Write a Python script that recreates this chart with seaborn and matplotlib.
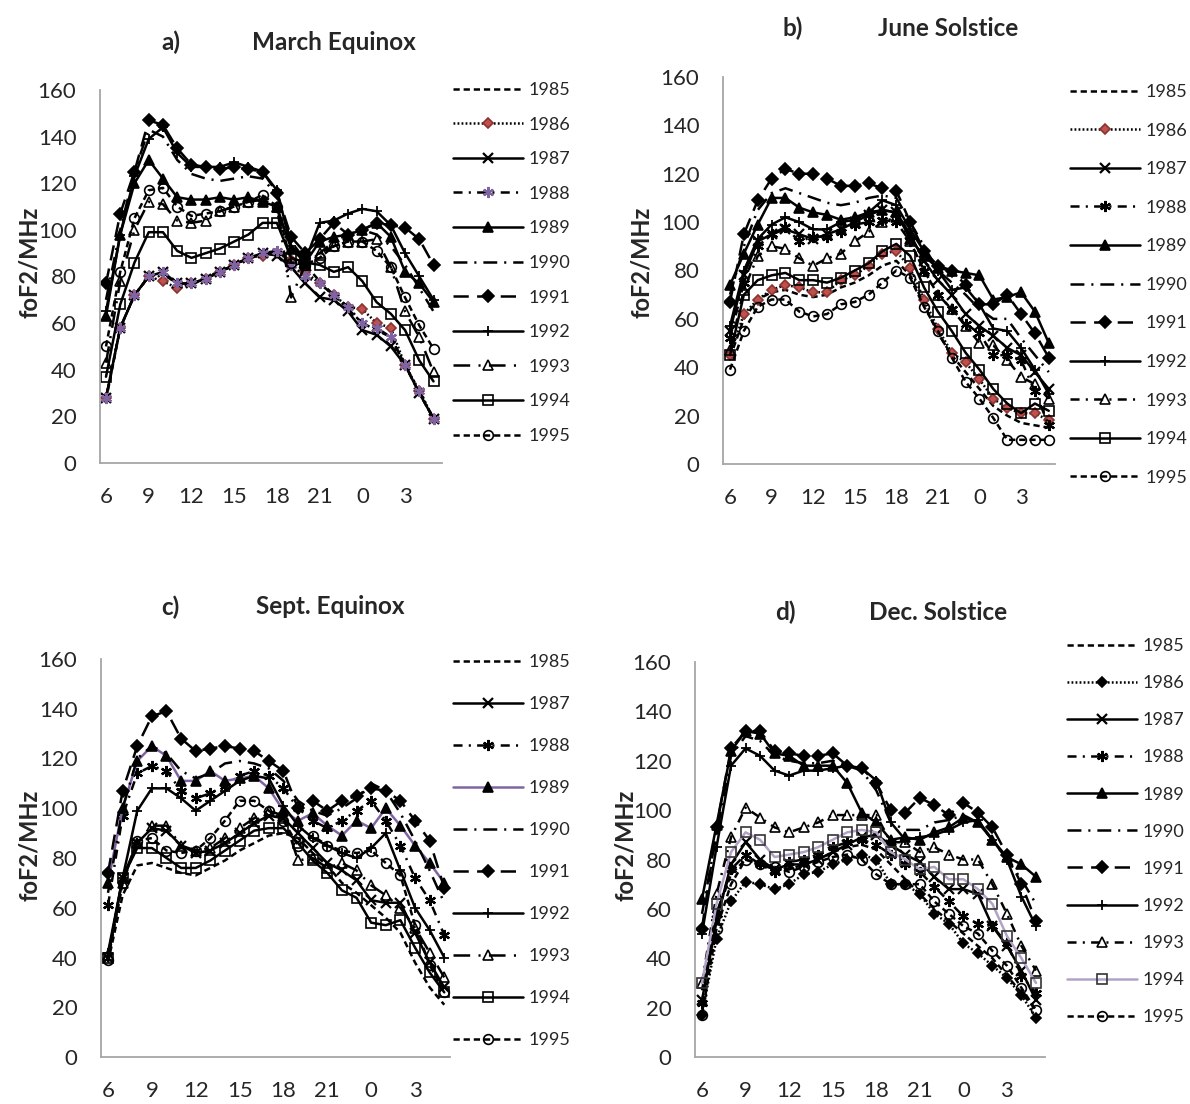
import numpy as np
import pandas as pd
import matplotlib
matplotlib.use("Agg")
import matplotlib.pyplot as plt
import seaborn as sns

# -------------------------------------------
# Data: hourly foF2 (MHz), 06 LT .. 05 LT
# -------------------------------------------
hours = [6, 7, 8, 9, 10, 11, 12, 13, 14, 15, 16, 17, 18, 19, 20, 21, 22, 23, 0, 1, 2, 3, 4, 5]

# a) March Equinox
mar_1985 = [27, 58, 72, 80, 81, 77, 76, 80, 82, 85, 88, 89, 90, 88, 85, 78, 72, 66, 60, 57, 54, 42, 30, 19]
mar_1986 = [28, 58, 72, 80, 78, 75, 77, 79, 82, 85, 88, 89, 90, 87, 82, 77, 72, 67, 66, 60, 58, 42, 31, 19]
mar_1987 = [28, 58, 72, 80, 82, 77, 77, 79, 82, 85, 88, 90, 89, 84, 77, 71, 70, 65, 57, 55, 50, 42, 30, 19]
mar_1988 = [28, 58, 72, 80, 82, 77, 77, 79, 82, 85, 88, 90, 91, 85, 80, 77, 72, 67, 60, 58, 54, 42, 31, 19]
mar_1989 = [63, 98, 120, 130, 122, 114, 113, 113, 114, 113, 114, 112, 110, 92, 86, 95, 97, 98, 100, 103, 97, 82, 77, 69]
mar_1990 = [70, 100, 125, 143, 140, 130, 124, 122, 121, 122, 123, 122, 115, 95, 87, 90, 95, 98, 100, 98, 93, 85, 75, 65]
mar_1991 = [77, 107, 125, 147, 145, 135, 128, 127, 126, 127, 126, 125, 116, 97, 90, 96, 103, 98, 100, 103, 102, 101, 96, 85]
mar_1992 = [65, 98, 123, 139, 144, 133, 127, 127, 127, 129, 127, 125, 117, 93, 87, 103, 104, 107, 109, 108, 102, 90, 80, 70]
mar_1993 = [43, 78, 100, 112, 111, 104, 103, 104, 108, 110, 112, 113, 110, 71, 85, 90, 93, 95, 95, 96, 84, 65, 54, 39]
mar_1994 = [37, 68, 86, 99, 99, 91, 88, 90, 92, 95, 98, 103, 103, 88, 86, 85, 82, 84, 78, 69, 64, 57, 44, 35]
mar_1995 = [50, 82, 105, 117, 118, 110, 106, 107, 108, 110, 112, 115, 110, 86, 85, 88, 93, 95, 95, 91, 84, 71, 59, 49]

# b) June Solstice
jun_1985 = [44, 60, 68, 71, 72, 70, 69, 70, 73, 75, 78, 82, 84, 78, 66, 54, 45, 38, 31, 24, 20, 17, 16, 15]
jun_1986 = [45, 62, 68, 72, 74, 73, 71, 71, 76, 78, 82, 87, 88, 81, 68, 56, 46, 42, 35, 27, 23, 21, 21, 18]
jun_1987 = [55, 78, 92, 95, 97, 95, 93, 95, 97, 100, 103, 105, 104, 95, 84, 76, 70, 62, 57, 53, 48, 45, 38, 31]
jun_1988 = [52, 75, 90, 95, 98, 92, 94, 94, 96, 99, 100, 101, 100, 92, 80, 70, 64, 58, 54, 45, 45, 43, 30, 16]
jun_1989 = [74, 87, 99, 110, 110, 106, 104, 103, 101, 102, 104, 105, 104, 93, 86, 81, 80, 79, 78, 68, 69, 71, 63, 50]
jun_1990 = [70, 90, 105, 112, 114, 112, 110, 108, 107, 108, 110, 111, 110, 100, 90, 80, 75, 70, 64, 60, 60, 52, 45, 38]
jun_1991 = [67, 95, 109, 118, 122, 120, 120, 118, 115, 115, 116, 114, 113, 100, 88, 82, 80, 74, 66, 66, 70, 62, 54, 44]
jun_1992 = [57, 80, 93, 99, 102, 100, 97, 97, 100, 101, 104, 109, 107, 97, 88, 80, 72, 73, 66, 56, 55, 48, 39, 29]
jun_1993 = [47, 72, 86, 90, 89, 85, 82, 85, 87, 92, 96, 100, 102, 92, 80, 70, 64, 57, 50, 49, 43, 36, 33, 27]
jun_1994 = [45, 70, 76, 78, 79, 76, 76, 75, 77, 80, 83, 88, 91, 86, 73, 63, 55, 46, 39, 31, 25, 21, 25, 22]
jun_1995 = [39, 55, 65, 68, 68, 63, 61, 62, 66, 67, 70, 75, 80, 77, 65, 55, 44, 34, 27, 19, 10, 10, 10, 10]

# c) Sept. Equinox (no 1986)
sep_1985 = [38, 65, 77, 78, 76, 74, 73, 76, 79, 83, 86, 89, 90, 88, 82, 77, 70, 66, 61, 56, 50, 38, 28, 21]
sep_1987 = [40, 72, 86, 92, 91, 85, 82, 83, 86, 90, 94, 97, 96, 90, 84, 78, 75, 71, 63, 62, 62, 50, 38, 28]
sep_1988 = [61, 97, 114, 117, 115, 107, 104, 106, 109, 113, 115, 113, 108, 100, 95, 92, 95, 99, 103, 95, 85, 72, 63, 49]
sep_1989 = [70, 100, 119, 125, 121, 111, 111, 115, 111, 112, 113, 108, 99, 95, 98, 93, 89, 95, 92, 100, 93, 85, 78, 70]
sep_1990 = [66, 100, 120, 125, 122, 115, 112, 114, 118, 119, 118, 116, 111, 103, 99, 97, 100, 104, 110, 107, 98, 87, 75, 62]
sep_1991 = [74, 107, 125, 137, 139, 128, 123, 124, 125, 124, 123, 119, 115, 100, 103, 99, 103, 105, 108, 107, 103, 95, 87, 68]
sep_1992 = [42, 72, 99, 108, 108, 104, 99, 103, 107, 111, 113, 112, 101, 93, 88, 85, 82, 80, 84, 90, 75, 60, 51, 40]
sep_1993 = [41, 70, 86, 93, 93, 85, 83, 84, 88, 92, 96, 99, 97, 79, 80, 76, 78, 75, 69, 65, 60, 52, 42, 32]
sep_1994 = [40, 72, 84, 84, 80, 76, 76, 79, 83, 87, 91, 92, 92, 86, 79, 74, 67, 64, 54, 53, 55, 44, 34, 26]
sep_1995 = [39, 70, 87, 88, 83, 82, 83, 88, 95, 103, 103, 99, 95, 85, 89, 85, 83, 82, 83, 78, 73, 53, 37, 26]

# d) Dec. Solstice
dec_1985 = [27, 58, 74, 80, 78, 76, 76, 78, 80, 83, 85, 86, 84, 78, 72, 66, 60, 55, 50, 45, 40, 33, 26, 19]
dec_1986 = [17, 48, 63, 71, 70, 68, 70, 74, 75, 78, 80, 82, 80, 70, 70, 66, 58, 54, 46, 42, 37, 32, 25, 16]
dec_1987 = [23, 55, 78, 87, 80, 76, 78, 78, 80, 83, 86, 89, 90, 86, 82, 79, 73, 68, 68, 66, 53, 45, 35, 23]
dec_1988 = [22, 58, 76, 82, 78, 75, 79, 80, 82, 85, 87, 88, 86, 82, 78, 75, 69, 63, 57, 54, 53, 46, 33, 26]
dec_1989 = [64, 94, 124, 132, 131, 123, 122, 118, 118, 118, 111, 99, 95, 88, 89, 88, 91, 93, 97, 95, 88, 81, 78, 73]
dec_1990 = [58, 90, 122, 130, 128, 122, 120, 119, 119, 120, 118, 116, 108, 95, 92, 92, 95, 96, 98, 95, 88, 80, 72, 62]
dec_1991 = [52, 93, 125, 132, 132, 124, 123, 122, 122, 123, 118, 117, 111, 100, 99, 105, 102, 98, 103, 99, 93, 82, 70, 55]
dec_1992 = [50, 85, 118, 125, 122, 116, 114, 116, 116, 117, 118, 117, 112, 95, 88, 89, 90, 92, 95, 96, 88, 80, 65, 53]
dec_1993 = [30, 66, 89, 101, 97, 93, 91, 93, 95, 98, 98, 98, 98, 87, 87, 83, 85, 82, 80, 80, 70, 58, 45, 35]
dec_1994 = [30, 62, 83, 91, 88, 81, 82, 83, 85, 88, 91, 92, 91, 83, 80, 76, 77, 72, 72, 68, 62, 49, 40, 30]
dec_1995 = [17, 52, 70, 80, 78, 77, 75, 77, 79, 81, 82, 80, 74, 70, 70, 70, 63, 58, 53, 50, 43, 37, 28, 19]

panels = {
    "mar": {1985: mar_1985, 1986: mar_1986, 1987: mar_1987, 1988: mar_1988, 1989: mar_1989, 1990: mar_1990,
            1991: mar_1991, 1992: mar_1992, 1993: mar_1993, 1994: mar_1994, 1995: mar_1995},
    "jun": {1985: jun_1985, 1986: jun_1986, 1987: jun_1987, 1988: jun_1988, 1989: jun_1989, 1990: jun_1990,
            1991: jun_1991, 1992: jun_1992, 1993: jun_1993, 1994: jun_1994, 1995: jun_1995},
    "sep": {1985: sep_1985, 1987: sep_1987, 1988: sep_1988, 1989: sep_1989, 1990: sep_1990,
            1991: sep_1991, 1992: sep_1992, 1993: sep_1993, 1994: sep_1994, 1995: sep_1995},
    "dec": {1985: dec_1985, 1986: dec_1986, 1987: dec_1987, 1988: dec_1988, 1989: dec_1989, 1990: dec_1990,
            1991: dec_1991, 1992: dec_1992, 1993: dec_1993, 1994: dec_1994, 1995: dec_1995},
}

# -------------------------------------------
# Styling
# -------------------------------------------
sns.set_style("white")
plt.rcParams["font.family"] = ["Lato", "DejaVu Sans"]
plt.rcParams["lines.scale_dashes"] = False

RED = "#C0504D"
PURPLE = "#8064A2"
LILAC = "#B3A2C7"
GREY = "#A6A6A6"

SHORT_DASH = (0, (4.5, 2.8))
DOTS = (0, (1.3, 1.6))
DASH_DOT_DOT = (0, (6.5, 4.5, 1.5, 4.5))
LONG_DASH_DOT = (0, (10, 5, 1.5, 5))
LONG_DASH = (0, (11, 6))
BIG_DASH_DOT = (0, (12, 6, 1.5, 6))


def series_style(year, panel):
    st = dict(color="black", linestyle="-", marker=None, markersize=7,
              markerfacecolor="black", markeredgecolor="black", markeredgewidth=1.2)
    if year == 1985:
        st.update(linestyle=SHORT_DASH)
    elif year == 1986:
        face = "black" if panel == "dec" else RED
        edge = "black" if panel == "dec" else "#8B3330"
        st.update(linestyle=DOTS, marker="D", markersize=5.5, markerfacecolor=face, markeredgecolor=edge)
    elif year == 1987:
        st.update(marker="x", markersize=6.5, markeredgewidth=1.6)
    elif year == 1988:
        mc = PURPLE if panel == "mar" else "black"
        st.update(linestyle=DASH_DOT_DOT, marker=(6, 2, 0), markersize=8,
                  markeredgecolor=mc, markerfacecolor=mc, markeredgewidth=1.6)
    elif year == 1989:
        st.update(marker="^", markersize=7.5)
        if panel == "sep":
            st.update(color=PURPLE)
    elif year == 1990:
        st.update(linestyle=LONG_DASH_DOT)
    elif year == 1991:
        st.update(linestyle=LONG_DASH, marker="D", markersize=6)
    elif year == 1992:
        st.update(marker="+", markersize=7, markeredgewidth=1.3)
    elif year == 1993:
        ls = BIG_DASH_DOT if panel in ("mar", "sep") else DASH_DOT_DOT
        st.update(linestyle=ls, marker="^", markersize=7.5, markerfacecolor="none")
    elif year == 1994:
        st.update(marker="s", markersize=7, markerfacecolor="none")
        if panel == "dec":
            st.update(color=LILAC, markeredgecolor="#333333")
    elif year == 1995:
        st.update(linestyle=SHORT_DASH, marker="o", markersize=7, markerfacecolor="none")
    return st


# layout in pixels: axes box, first point x, point spacing, legend box
layout = {
    "mar": dict(box=(100, 90, 442, 463), x0=106, dx=14.24, leg=(453, 82, 1.03),
                tag="a)", tag_xy=(171, 42), title="March Equinox", title_xy=(334, 42), ylab_xy=(30, 262)),
    "jun": dict(box=(723, 77, 1055, 464), x0=730, dx=13.86, leg=(1070, 84, 1.25),
                tag="b)", tag_xy=(793, 28), title="June Solstice", title_xy=(948, 28), ylab_xy=(641, 262)),
    "sep": dict(box=(101, 659, 450, 1057), x0=108, dx=14.62, leg=(453, 654, 1.44),
                tag="c)", tag_xy=(170, 607), title="Sept. Equinox", title_xy=(330, 607), ylab_xy=(30, 845)),
    "dec": dict(box=(695, 662, 1045, 1057), x0=702, dx=14.52, leg=(1067, 638, 1.17),
                tag="d)", tag_xy=(785, 612), title="Dec. Solstice", title_xy=(938, 612), ylab_xy=(625, 845)),
}

W, H = 1190, 1104
fig = plt.figure(figsize=(W / 100, H / 100), dpi=100)

idx = np.arange(len(hours))
xtick_labels = [str(h) if i % 3 == 0 else "" for i, h in enumerate(hours)]

for key, series in panels.items():
    lay = layout[key]
    l, t, r, b = lay["box"]
    ax = fig.add_axes([l / W, 1 - b / H, (r - l) / W, (b - t) / H])

    handles = []
    for year, vals in series.items():
        df = pd.DataFrame({"idx": idx, "foF2": vals})
        st = series_style(year, key)
        sns.lineplot(data=df, x="idx", y="foF2", ax=ax, estimator=None, errorbar=None,
                     linewidth=1.8, label=str(year), **st)
        handles.append(ax.lines[-1])

    ax.set_xlim((l - lay["x0"]) / lay["dx"], (r - lay["x0"]) / lay["dx"])
    ax.set_ylim(0, 160)
    ax.set_yticks(range(0, 161, 20))
    ax.set_xticks(idx)
    ax.set_xticklabels(xtick_labels)
    ax.set_xlabel("")
    ax.set_ylabel("")
    ax.tick_params(axis="x", length=4, width=1, color=GREY, direction="out", pad=13, labelsize=16)
    ax.tick_params(axis="y", length=0, pad=17, labelsize=16)
    for s in ["top", "right"]:
        ax.spines[s].set_visible(False)
    for s in ["left", "bottom"]:
        ax.spines[s].set_color(GREY)
        ax.spines[s].set_linewidth(1.3)

    lx, ly, spacing = lay["leg"]
    ax.legend(handles=handles, labels=[str(y) for y in series], loc="upper left",
              bbox_to_anchor=(lx / W, 1 - ly / H), bbox_transform=fig.transFigure,
              frameon=False, fontsize=13, handlelength=3.85, handletextpad=0.35,
              labelspacing=spacing, borderpad=0, borderaxespad=0)

    fig.text(lay["tag_xy"][0] / W, 1 - lay["tag_xy"][1] / H, lay["tag"], fontsize=17.5,
             fontweight="bold", ha="center", va="center")
    fig.text(lay["title_xy"][0] / W, 1 - lay["title_xy"][1] / H, lay["title"], fontsize=17.5,
             fontweight="bold", ha="center", va="center")
    fig.text(lay["ylab_xy"][0] / W, 1 - lay["ylab_xy"][1] / H, "foF2/MHz", fontsize=17,
             fontweight="bold", rotation=90, ha="center", va="center")

fig.savefig("out.png", dpi=100)
